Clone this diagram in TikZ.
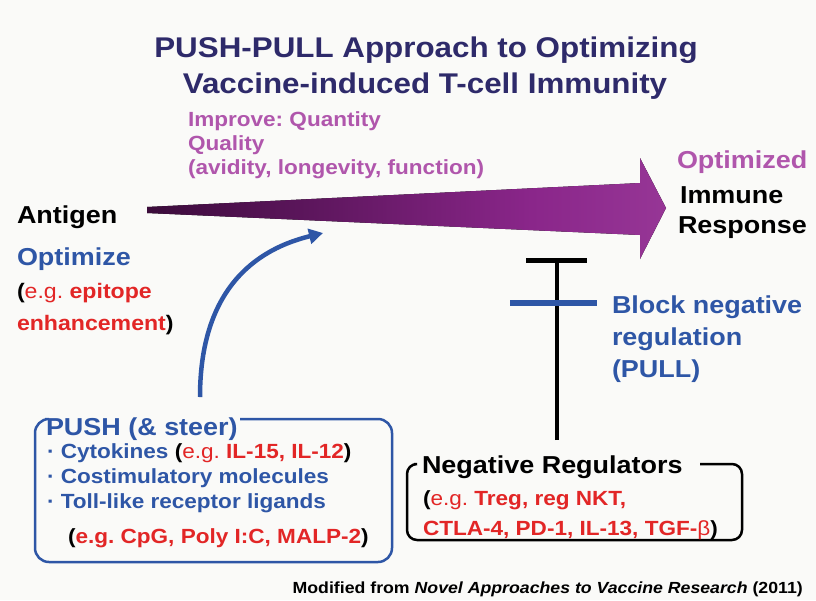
\documentclass[tikz,border=0pt]{standalone}
\usepackage{fontspec}
\setmainfont{Liberation Sans}[FakeStretch=1.1]
\usetikzlibrary{arrows.meta}
\frenchspacing
\definecolor{bgc}{RGB}{250,250,248}
\definecolor{titlec}{RGB}{46,42,106}
\definecolor{purpc}{RGB}{176,86,172}
\definecolor{bluec}{RGB}{46,86,166}
\definecolor{redc}{RGB}{226,38,38}
\definecolor{arrA}{RGB}{70,14,70}
\definecolor{arrB}{RGB}{138,38,138}
\definecolor{arrC}{RGB}{174,84,172}
\pgfdeclarehorizontalshading{arrowshade}{100bp}{color(0bp)=(black); color(30bp)=(arrA); color(62bp)=(arrB); color(100bp)=(arrC)}
\newcommand{\fsz}[2]{\fontsize{#1}{#2}\selectfont}
\begin{document}
\begin{tikzpicture}[x=1pt,y=-1pt,
  txt/.style={inner sep=0pt,outer sep=0pt,anchor=base west,font=\bfseries},
  ttl/.style={inner sep=0pt,anchor=base,text=titlec,font=\bfseries\fsz{28.5}{34}},
  imp/.style={txt,text=purpc,font=\bfseries\fsz{20.5}{24}},
  big/.style={txt,font=\bfseries\fsz{24.5}{29}},
  item/.style={txt,font=\bfseries\fsz{20.5}{24}},
  blk/.style={line width=4.5pt,black},
]
\fill[bgc] (0,0) rectangle (816,600);
\useasboundingbox (0,0) rectangle (816,600);

% title
\node[ttl] (t1) at (426,57) {PUSH-PULL Approach to Optimizing};
\node[ttl] (t2) at (425,93) {Vaccine-induced T-cell Immunity};

% improve text
\node[imp] (i1) at (188,126) {Improve: Quantity};
\node[imp] (i2) at (188,150) {Quality};
\node[imp] (i3) at (188,174) {(avidity, longevity, function)};

% big arrow
\fill[shading=arrowshade] (147,207) -- (640,183) -- (640,158) -- (666,208) -- (640,259) -- (640,235) -- (147,213) -- cycle;

% left texts
\node[big] (ag) at (17,223) {Antigen};
\node[big,text=bluec] (op) at (17,265) {Optimize};
\node[txt,font=\bfseries\fsz{21}{25}] (eg1) at (17,298) {(\textcolor{redc}{\mdseries e.g. }\textcolor{redc}{epitope}};
\node[txt,font=\bfseries\fsz{21}{25}] (eg2) at (17,330) {\textcolor{redc}{enhancement})};

% right texts
\node[big,text=purpc] (oz) at (677,168) {Optimized};
\node[big] (im) at (680,203) {Immune};
\node[big] (rs) at (678,233) {Response};

% PUSH box
\draw[bluec,line width=2.5pt,rounded corners=14pt] (240,419) -- (392,419) -- (392,562) -- (35,562) -- (35,419) -- (45,419);
\node[big,text=bluec] (push) at (46,435) {PUSH (\&~steer)};
\node[item,text=bluec] (p1) at (47,458) {· Cytokines \textcolor{black}{(}\textcolor{redc}{\mdseries e.g. }\textcolor{redc}{IL-15, IL-12}\textcolor{black}{)}};
\node[item,text=bluec] (p2) at (47,483) {· Costimulatory molecules};
\node[item,text=bluec] (p3) at (47,508) {· Toll-like receptor ligands};
\node[item] (p4) at (68,543) {(\textcolor{redc}{e.g. CpG, Poly I:C, MALP-2})};

% curved push arrow
\coordinate (pa) at (200,397);
\coordinate (pb) at (323,233);
\draw[bluec,line width=4.5pt,-{Triangle[length=14pt,width=15pt]}] (pa) .. controls (200,300) and (245,252) .. (pb);

% Negative regulators
\draw[black,line width=2.5pt,rounded corners=10pt] (700,464) -- (742,464) -- (742,540) -- (407,540) -- (407,464) -- (414,464);
\node[big] (nr) at (422,473) {Negative Regulators};
\node[item] (n1) at (423,505) {(\textcolor{redc}{\mdseries e.g. }\textcolor{redc}{Treg, reg NKT,}};
\node[item] (n2) at (423,535) {\textcolor{redc}{CTLA-4, PD-1, IL-13, TGF-}\textcolor{redc}{\mdseries β})};

% T inhibition
\coordinate (tt) at (557,260);
\coordinate (tb) at (557,440);
\draw[blk] (tb) -- (tt);
\draw[line width=5pt,black] (526,260) -- (587,260);
\draw[line width=6pt,bluec] (510,303) -- (597,303);

% PULL text
\node[big,text=bluec] (b1) at (612,313) {Block negative};
\node[big,text=bluec] (b2) at (612,345) {regulation};
\node[big,text=bluec] (b3) at (612,377) {(PULL)};

% footer
\node[inner sep=0pt,anchor=base east,font=\bfseries\fsz{16.1}{19}] (ft) at (803,593) {Modified from \textit{Novel Approaches to Vaccine Research} (2011)};
\end{tikzpicture}
\end{document}
